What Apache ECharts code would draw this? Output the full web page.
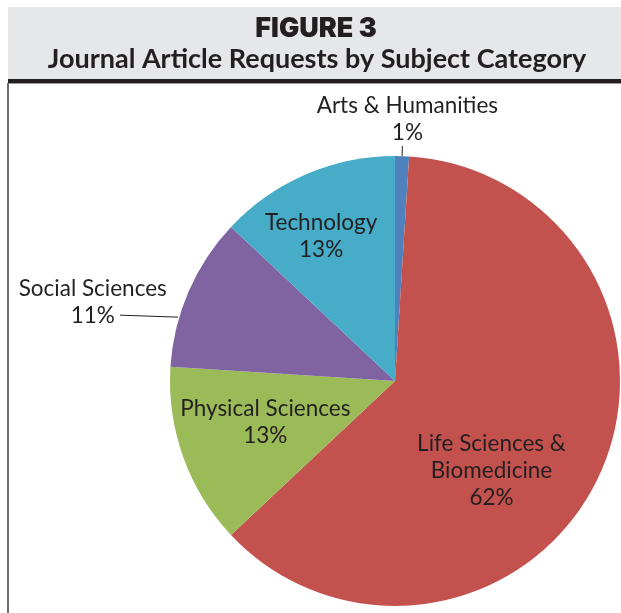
<!DOCTYPE html>
<html>
<head>
<meta charset="utf-8">
<script src="https://cdn.jsdelivr.net/npm/echarts@6/dist/echarts.min.js"></script>
<style>
html,body{margin:0;padding:0;background:#fff;}
#chart{width:621px;height:613px;}
</style>
</head>
<body>
<div id="chart"></div>
<script>
var categories = ['Arts & Humanities', 'Life Sciences &\nBiomedicine', 'Physical Sciences', 'Social Sciences', 'Technology'];
var values = [1, 62, 13, 11, 13];
var colors = ['#4f81bd', '#c3514e', '#9bbb59', '#8064a2', '#46acc8'];
var figureTitle = 'FIGURE 3';
var chartTitle = 'Journal Article Requests by Subject Category';

var labelCfg = [
  {position: 'outside', offset: [0, 0]},
  {position: 'inside', offset: [-8, 41]},
  {position: 'inside', offset: [-21, 2]},
  {position: 'outside', offset: [0, 0]},
  {position: 'inside', offset: [-28, -39]}
];

var data = categories.map(function (c, i) {
  var item = {
    name: c,
    value: values[i],
    itemStyle: {color: colors[i]},
    label: {position: labelCfg[i].position, offset: labelCfg[i].offset}
  };
  if (i === 0) item.labelLine = {show: true, length: 10, length2: 0, lineStyle: {color: '#231f20', width: 1}};
  if (i === 3) item.labelLine = {show: true, length: 4, length2: 55, lineStyle: {color: '#231f20', width: 1}};
  return item;
});

var chart = echarts.init(document.getElementById('chart'), null, {renderer: 'canvas'});
chart.setOption({
  animation: false,
  graphic: [
    {type: 'rect', shape: {x: 8, y: 7, width: 613, height: 72}, style: {fill: '#e6e7e8'}, z: -10},
    {type: 'rect', shape: {x: 8, y: 79, width: 613, height: 4}, style: {fill: '#231f20'}, z: -10},
    {type: 'rect', shape: {x: 8, y: 83, width: 613, height: 1}, style: {fill: '#9a9a9a'}, z: -10},
    {type: 'rect', shape: {x: 7, y: 83, width: 2, height: 530}, style: {fill: '#6d6e71'}, z: -10},
    {type: 'text', x: 316, y: 15, style: {text: figureTitle, font: '900 27px Inter', fill: '#231f20', textAlign: 'center', textVerticalAlign: 'top'}},
    {type: 'text', x: 317, y: 46, style: {text: chartTitle, font: 'bold 27px Lato', fill: '#231f20', textAlign: 'center', textVerticalAlign: 'top'}}
  ],
  series: [{
    type: 'pie',
    center: [395, 381],
    radius: [0, 225],
    startAngle: 90,
    clockwise: true,
    avoidLabelOverlap: false,
    itemStyle: {borderWidth: 0},
    label: {
      show: true,
      formatter: '{a|{b}}\n{a|{d}%}',
      color: '#231f20',
      fontFamily: 'Lato',
      fontSize: 22.5,
      lineHeight: 27,
      rich: {a: {align: 'center', fontFamily: 'Lato', fontSize: 22.5, lineHeight: 27, color: '#231f20'}}
    },
    labelLayout: function (p) {
      if (p.dataIndex === 0) return {align: 'center', verticalAlign: 'bottom'};
      if (p.dataIndex === 3) {
        var p0 = p.labelLinePoints[0];
        var start = [p0[0] - 10.5, p0[1] + 25.5];
        var end = [p0[0] - 68.5, p0[1] + 23.5];
        return {dx: 42, dy: 12, labelLinePoints: [start, end, end]};
      }
      return {};
    },
    data: data
  }]
});
</script>
</body>
</html>
